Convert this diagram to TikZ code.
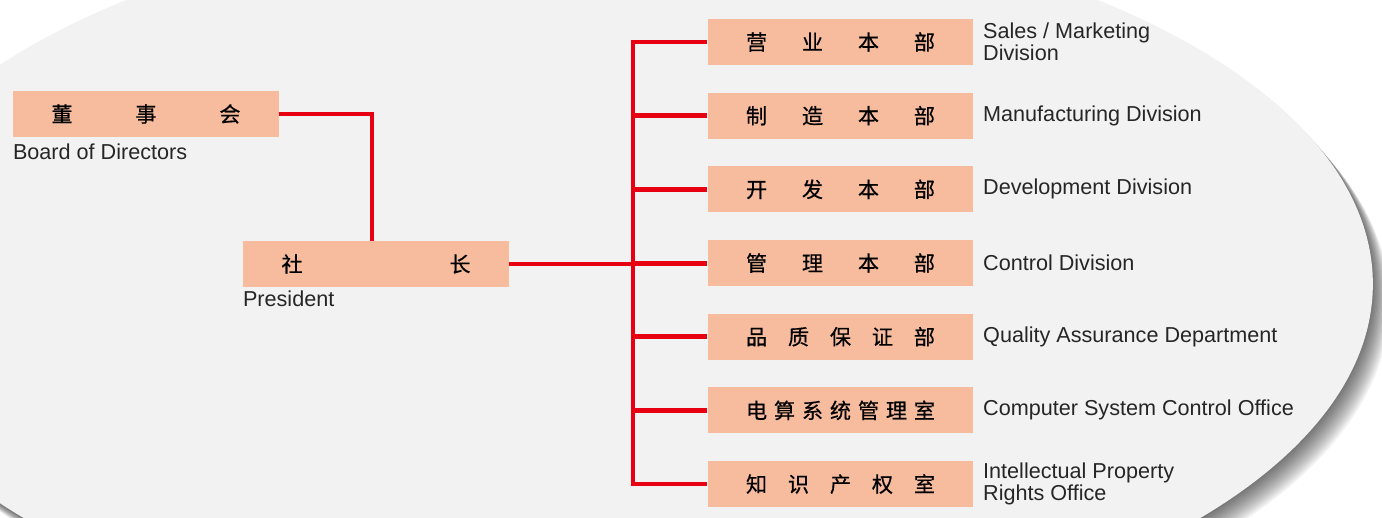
\documentclass[tikz,border=0pt]{standalone}
\usepackage{fontspec}
\setmainfont{Liberation Sans}
\newfontfamily\cjk[FakeBold=0.6]{Noto Sans CJK SC}
\usetikzlibrary{positioning}
\definecolor{bggray}{RGB}{242,242,242}
\definecolor{boxpeach}{RGB}{247,188,158}
\definecolor{linkred}{RGB}{230,0,18}
\newcommand{\spreadcjk}[1]{\makebox[3.78cm][s]{\cjk #1}}

\begin{document}
\begin{tikzpicture}[x=0.02cm, y=-0.02cm,
   unit/.style={fill=boxpeach, minimum width=5.32cm, minimum height=0.92cm, inner sep=0pt, font=\fontsize{12}{12}\selectfont},
   caption/.style={font=\fontsize{12.3}{12.5}\selectfont, align=left, inner sep=0pt, text=black!85},
   link/.style={draw=linkred, line width=2.6pt}]
   \useasboundingbox (0,0) rectangle (1382,517);
   \foreach \k in {1,...,14}
     \fill[black, opacity=0.05] (612+1.2*\k, 284+1.4*\k) ellipse [x radius=15.22cm, y radius=7.38cm];
   \fill[bggray] (612,284) ellipse [x radius=15.22cm, y radius=7.38cm];
   \node[unit] (board) at (146,114) {\spreadcjk{董\hfill 事\hfill 会}};
   \node[caption, anchor=north west] (boardtxt) at ([yshift=-3.4pt]board.south west) {Board of Directors};
   \node[unit] (pres) at (376,264) {\spreadcjk{社\hfill 长}};
   \node[caption, anchor=north west] (prestxt) at ([yshift=-1.7pt]pres.south west) {President};
   \coordinate (drop) at ([xshift=-0.08cm]pres.north);
   \foreach \chars/\txt [count=\i from 0] in {
       {营\hfill 业\hfill 本\hfill 部}/{Sales / Marketing\\Division},
       {制\hfill 造\hfill 本\hfill 部}/{Manufacturing Division},
       {开\hfill 发\hfill 本\hfill 部}/{Development Division},
       {管\hfill 理\hfill 本\hfill 部}/{Control Division},
       {品\hfill 质\hfill 保\hfill 证\hfill 部}/{Quality Assurance Department},
       {电\hfill 算\hfill 系\hfill 统\hfill 管\hfill 理\hfill 室}/{Computer System Control Office},
       {知\hfill 识\hfill 产\hfill 权\hfill 室}/{Intellectual Property\\Rights Office}} {
     \node[unit] (div\i) at (840.5, 42+73.67*\i) {\spreadcjk{\chars}};
     \node[caption, right=0.18cm of div\i] (divtxt\i) {\txt};
   }
   \draw[link] (board.east) -| (drop);
   \draw[link] (pres.east) -- (pres.east -| div3.west);
   \draw[link] (div0.west) -- ++(-74,0) |- (div6.west);
   \foreach \i in {1,...,5}
     \draw[link] (div\i.west) -- ++(-74,0);
\end{tikzpicture}
\end{document}
